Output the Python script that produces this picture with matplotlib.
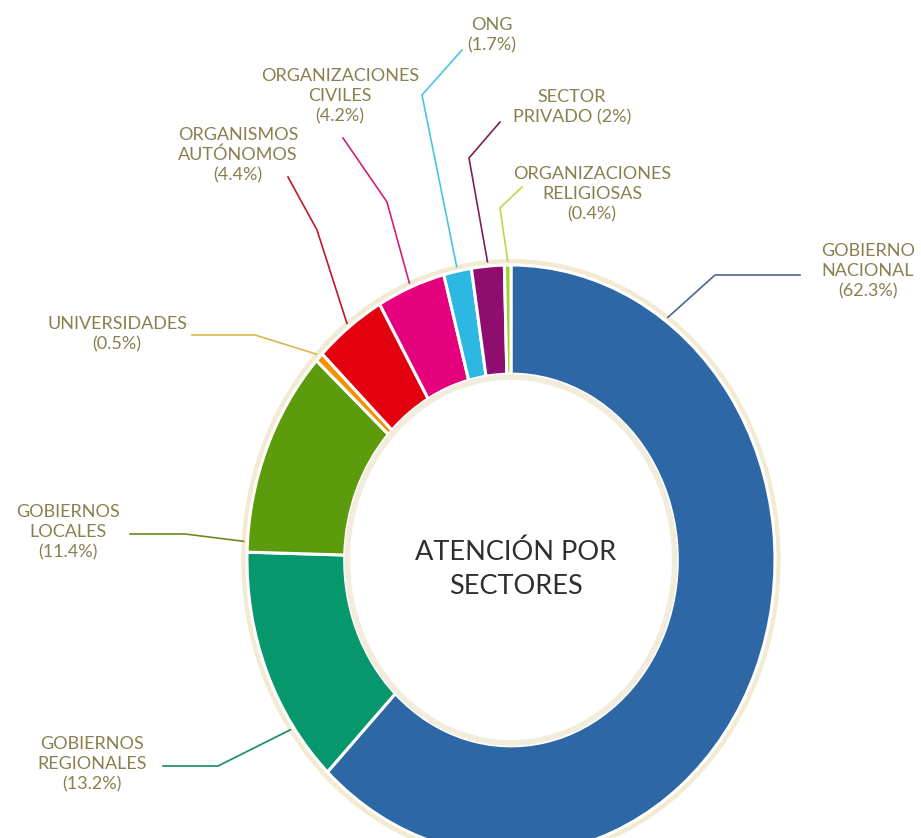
import numpy as np
import matplotlib
matplotlib.use("Agg")
from matplotlib import pyplot as plt
from matplotlib.patches import Ellipse

# Attention by sector (share of cases, %)
sectors = ["GOBIERNO\nNACIONAL", "GOBIERNOS\nREGIONALES", "GOBIERNOS\nLOCALES",
           "UNIVERSIDADES", "ORGANISMOS\nAUTÓNOMOS", "ORGANIZACIONES\nCIVILES",
           "ONG", "SECTOR\nPRIVADO", "ORGANIZACIONES\nRELIGIOSAS"]
shares = [62.3, 13.2, 11.4, 0.5, 4.4, 4.2, 1.7, 2, 0.4]
share_text = ["62.3%", "13.2%", "11.4%", "0.5%", "4.4%", "4.2%", "1.7%", "2%", "0.4%"]

colors = ["#2e67a5", "#07976c", "#5b9b0c", "#f39200", "#e3000f",
          "#e5007d", "#2db8e3", "#8e0d6f", "#a3cf33"]
line_colors = ["#4b6590", "#16876a", "#6a8a1e", "#d9b84a", "#c0162a",
               "#d21f74", "#4cc3e6", "#7a1f5e", "#b8d84a"]

W, H = 921, 838
cx, cy, rx, ry = 511, 560, 264, 295  # donut centre / radii in pixels
txt_color = "#8a7f4e"
font = ["Lato", "DejaVu Sans"]

fig = plt.figure(figsize=(W / 100, H / 100), dpi=100)
fig.patch.set_facecolor("white")

# donut axes: unit circle stretched to the ellipse box
pie_ax = fig.add_axes([(cx - rx) / W, (H - cy - ry) / H, 2 * rx / W, 2 * ry / H])
glow = Ellipse((0, 0), 2.025, 2.025, facecolor="none",
               edgecolor="#f2ead2", lw=3.5, zorder=0)
glow.set_clip_on(False)
pie_ax.add_patch(glow)
wedges, _ = pie_ax.pie(shares, colors=colors, startangle=90, counterclock=False,
                       radius=1.0,
                       wedgeprops=dict(width=0.37, edgecolor="white", linewidth=2.2))
for w in wedges:
    w.set_clip_on(False)
pie_ax.add_patch(Ellipse((0, 0), 2 * 0.62, 2 * 0.62, facecolor="none",
                         edgecolor="#ece4cc", lw=4, alpha=0.7, zorder=5))
pie_ax.set_aspect("auto")
pie_ax.set_xlim(-1, 1)
pie_ax.set_ylim(-1, 1)
pie_ax.axis("off")

# overlay axes in pixel coordinates for labels and leader lines
ax = fig.add_axes([0, 0, 1, 1], zorder=3)
ax.set_xlim(0, W)
ax.set_ylim(H, 0)
ax.axis("off")

# where each leader line touches its wedge (fraction of the wedge span)
anchor_frac = [0.16, 0.24, 0.05, 0.5, 0.5, 0.5, 0.5, 0.5, 0.5]
# label centre and the leader path from the label to the elbow
label_pos = [(868, 271), (92, 764), (68, 532), (117, 334), (238, 155),
             (340, 96), (492, 35), (572, 107), (592, 194)]
leader_path = [[(800, 275), (715, 275)], [(163, 766), (218, 766)],
               [(130, 534), (185, 534)], [(192, 335), (255, 335)],
               [(288, 177), (317, 230)], [(343, 138), (387, 202)],
               [(462, 50), (422, 95)], [(500, 122), (469, 158)],
               [(522, 187), (500, 208)]]

total = sum(shares)
start = 0.0
for i, val in enumerate(shares):
    span = val / total * 360.0
    theta = np.radians(start + anchor_frac[i] * span)  # clockwise from top
    start += span
    ax_pt = (cx + rx * 1.015 * np.sin(theta), cy - ry * 1.015 * np.cos(theta))
    pts = leader_path[i] + [ax_pt]
    ax.plot([p[0] for p in pts], [p[1] for p in pts], color=line_colors[i], lw=1.2)

    if sectors[i] == "SECTOR\nPRIVADO":
        label = "SECTOR\nPRIVADO (" + share_text[i] + ")"
    else:
        label = sectors[i] + "\n(" + share_text[i] + ")"
    ax.text(label_pos[i][0], label_pos[i][1], label, ha="center", va="center",
            fontsize=13, color=txt_color, family=font, linespacing=1.3)

ax.text(cx + 5, 569, "ATENCIÓN POR\nSECTORES", ha="center", va="center",
        fontsize=19.5, color="#2f2f2f", family=font, linespacing=1.45)

fig.savefig("out.png", dpi=100, facecolor="white")
